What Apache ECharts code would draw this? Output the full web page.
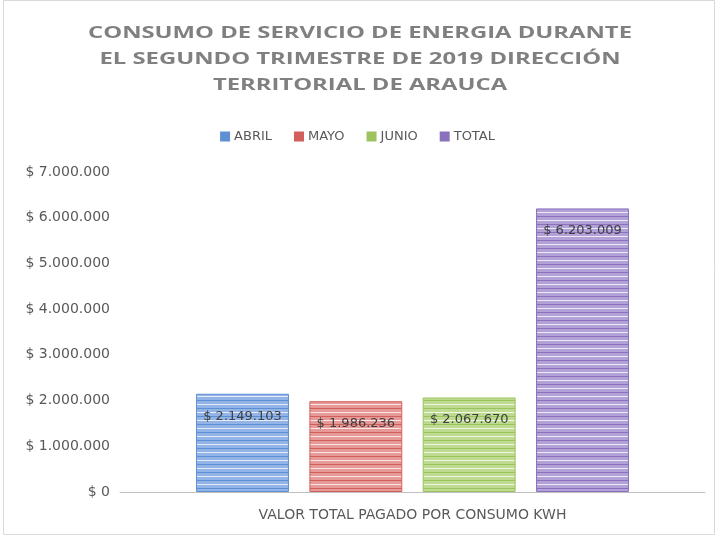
<!DOCTYPE html>
<html>
<head>
<meta charset="utf-8">
<script src="https://cdn.jsdelivr.net/npm/echarts@6/dist/echarts.min.js"></script>
<style>
  html, body { margin: 0; padding: 0; background: #fff; }
  #main { width: 715px; height: 535px; }
</style>
</head>
<body>
<div id="main"></div>
<script>
// datos del grafico
const titleLines = ['CONSUMO DE SERVICIO DE ENERGIA DURANTE', 'EL SEGUNDO TRIMESTRE DE 2019 DIRECCIÓN', 'TERRITORIAL DE ARAUCA']
const categories = ['VALOR TOTAL PAGADO POR CONSUMO KWH']
const seriesNames = ['ABRIL', 'MAYO', 'JUNIO', 'TOTAL']
const abril = [2149103]
const mayo = [1986236]
const junio = [2067670]
const total = [6203009]
const yTicks = [0, 1000000, 2000000, 3000000, 4000000, 5000000, 6000000, 7000000]

const baseColors = ['#5f8fd3', '#d35f5c', '#9cc35e', '#8a70bd']
const lightColors = ['#92b4e6', '#e69a98', '#bedb92', '#b2a2d8']

function fmt (v) {
  return '$ ' + String(v).replace(/\B(?=(\d{3})+(?!\d))/g, '.')
}

// relleno rayado horizontal
function stripes (dark, light) {
  let c = document.createElement('canvas')
  c.width = 8
  c.height = 8
  let ctx = c.getContext('2d')
  ctx.fillStyle = light
  ctx.fillRect(0, 0, 8, 8)
  ctx.fillStyle = dark
  ctx.fillRect(0, 0, 8, 1)
  ctx.fillStyle = 'rgba(255,255,255,0.75)'
  ctx.fillRect(0, 4, 8, 1)
  return { image: c, repeat: 'repeat' }
}

const values = [abril, mayo, junio, total]

// ancho del titulo (espaciado como el original)
const titleFont = 'bold 16px "Open Sans"'
let mc = document.createElement('canvas').getContext('2d')
mc.font = titleFont
let titleScale = 544 / mc.measureText(titleLines[0]).width

let chart = echarts.init(document.getElementById('main'))
let option = {
  legend: {
    top: 125,
    left: 'center',
    itemWidth: 8,
    itemHeight: 8,
    itemGap: 22,
    icon: 'rect',
    textStyle: { color: '#595959', fontSize: 13, fontFamily: 'DejaVu Sans' },
    data: seriesNames.map((n, i) => ({ name: n, itemStyle: { color: baseColors[i] } }))
  },
  grid: { left: 120, right: 10, top: 172, bottom: 43 },
  xAxis: {
    type: 'category',
    data: categories,
    axisTick: { show: false },
    axisLine: { lineStyle: { color: '#bfbfbf' } },
    axisLabel: { color: '#595959', fontSize: 14, margin: 16, fontFamily: 'DejaVu Sans' }
  },
  yAxis: {
    type: 'value',
    min: yTicks[0],
    max: yTicks[yTicks.length - 1],
    interval: 1000000,
    axisLine: { show: false },
    axisTick: { show: false },
    splitLine: { show: false },
    axisLabel: { color: '#595959', fontSize: 14, margin: 10, fontFamily: 'DejaVu Sans', formatter: fmt }
  },
  series: seriesNames.map((n, i) => ({
    name: n,
    type: 'bar',
    data: values[i],
    barGap: '22%',
    barCategoryGap: '26%',
    itemStyle: { color: stripes(baseColors[i], lightColors[i]), borderColor: baseColors[i], borderWidth: 1 },
    label: {
      show: true,
      position: 'insideTop',
      distance: 16,
      color: '#404040',
      fontSize: 13,
      fontFamily: 'DejaVu Sans',
      formatter: p => fmt(p.value)
    }
  })),
  graphic: [{
    type: 'rect',
    shape: { x: 3.5, y: 0.5, width: 711, height: 534 },
    style: { fill: 'none', stroke: '#d9d9d9', lineWidth: 1 },
    silent: true
  }, {
    type: 'text',
    x: 360,
    y: 20,
    scaleX: titleScale,
    silent: true,
    style: {
      text: titleLines.join('\n'),
      font: titleFont,
      fill: '#808080',
      align: 'center',
      verticalAlign: 'top',
      lineHeight: 26
    }
  }]
}
chart.setOption(option)
</script>
</body>
</html>
